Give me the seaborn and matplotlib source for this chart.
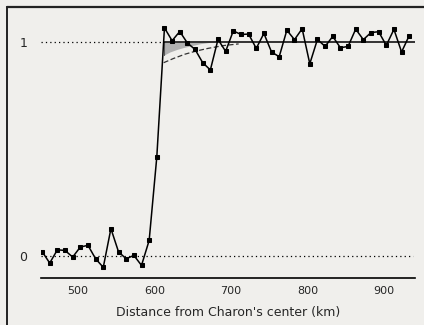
import numpy as np
import pandas as pd
import matplotlib
matplotlib.use("Agg")
import matplotlib.pyplot as plt
from matplotlib.lines import Line2D
import seaborn as sns

# occultation light curve, normalised flux vs distance (km)
distance_km = [453 + 10 * i for i in range(49)]
flux = [0.021, -0.033, 0.029, 0.026, -0.005, 0.042, 0.050, -0.013, -0.053, 0.128,
        0.019, -0.013, 0.003, -0.044, 0.073, 0.464, 1.068, 1.008, 1.051, 0.997,
        0.967, 0.905, 0.871, 1.014, 0.958, 1.054, 1.037, 1.039, 0.972, 1.042,
        0.955, 0.933, 1.057, 1.013, 1.064, 0.900, 1.014, 0.981, 1.028, 0.975,
        0.981, 1.062, 1.013, 1.046, 1.050, 0.986, 1.061, 0.955, 1.032]

# model curves near the limb
wedge_x = [612, 620, 630, 640, 650, 660, 672]
wedge_low = [0.94, 0.955, 0.968, 0.978, 0.986, 0.994, 1.0]
dashed_x = [612, 625, 640, 655, 670, 690, 710]
dashed_y = [0.905, 0.925, 0.945, 0.96, 0.972, 0.985, 0.993]
model_x = [612, 940]
model_y = [1.0, 1.0]

xticks = [500, 600, 700, 800, 900]
paper = "#f0efec"

df = pd.DataFrame({"distance": distance_km, "flux": flux})

sns.set_style("white")
plt.rcParams["font.family"] = ["DejaVu Sans"]

fig = plt.figure(figsize=(4.24, 3.25), dpi=100, facecolor=paper)
ax = fig.add_axes([0.0967, 0.1446, 0.882, 0.8334])
ax.set_facecolor(paper)

# reference levels
ax.plot([451, 938], [0, 0], linestyle=(0, (1, 2.5)), color="black", lw=0.9)
ax.plot([451, 612], [1, 1], linestyle=(0, (1, 2.5)), color="black", lw=0.9)

# model
ax.fill_between(wedge_x, wedge_low, [1.0] * len(wedge_x), color="#b0b0b0", lw=0)
ax.plot([612, 612], [wedge_low[0], 1.0], color="#555555", lw=0.8)
ax.plot(dashed_x, dashed_y, color="#333333", lw=0.9, linestyle=(0, (4, 2)))
ax.plot(model_x, model_y, color="black", lw=1.1)

# data
sns.lineplot(data=df, x="distance", y="flux", ax=ax, color="black", lw=1.1,
             marker="s", markersize=2.7, markeredgecolor="black")

ax.set_xlim(451.6, 940.5)
ax.set_ylim(-0.103, 1.165)
ax.set_xticks(xticks)
ax.set_yticks([0, 1])
ax.set_yticklabels(["0", "1"])
ax.tick_params(axis="x", direction="in", length=4, width=0.9, pad=6, labelsize=8)
ax.tick_params(axis="y", length=0, pad=10, labelsize=9)
ax.set_xlabel("Distance from Charon's center (km)", fontsize=9, labelpad=7)
ax.set_ylabel("")

for side in ["top", "right", "left"]:
    ax.spines[side].set_visible(False)
ax.spines["bottom"].set_linewidth(1.2)
ax.spines["bottom"].set_color("black")

# scanned page frame
fig.add_artist(Line2D([7 / 424, 7 / 424], [0, 1 - 7 / 325], color="#222222", lw=1.4))
fig.add_artist(Line2D([7 / 424, 1], [1 - 7 / 325, 1 - 7 / 325], color="#222222", lw=1.6))

fig.savefig("out.png", dpi=100, facecolor=paper)
